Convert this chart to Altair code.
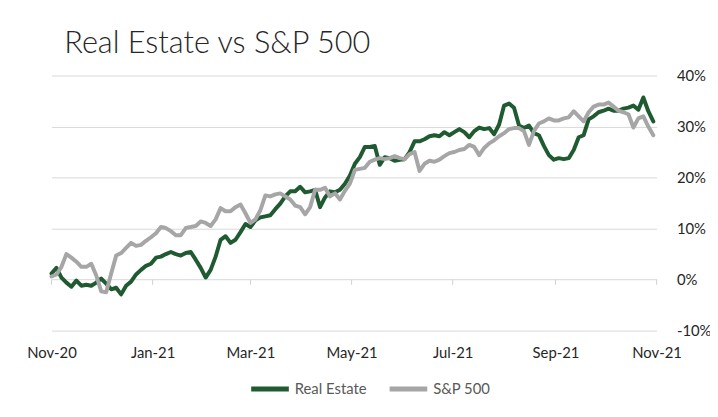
import altair as alt
import pandas as pd

dates = [
    "2020/11/01", "2020/11/04", "2020/11/07", "2020/11/10", "2020/11/13", "2020/11/16", "2020/11/19", "2020/11/22", "2020/11/25", "2020/11/28",
    "2020/12/01", "2020/12/04", "2020/12/07", "2020/12/10", "2020/12/13", "2020/12/16", "2020/12/19", "2020/12/22", "2020/12/25", "2020/12/28",
    "2020/12/31", "2021/01/03", "2021/01/06", "2021/01/09", "2021/01/12", "2021/01/15", "2021/01/18", "2021/01/21", "2021/01/24", "2021/01/27",
    "2021/01/30", "2021/02/02", "2021/02/05", "2021/02/08", "2021/02/11", "2021/02/14", "2021/02/17", "2021/02/20", "2021/02/23", "2021/02/26",
    "2021/03/01", "2021/03/04", "2021/03/07", "2021/03/10", "2021/03/13", "2021/03/16", "2021/03/19", "2021/03/22", "2021/03/25", "2021/03/28",
    "2021/03/31", "2021/04/03", "2021/04/06", "2021/04/09", "2021/04/12", "2021/04/15", "2021/04/18", "2021/04/21", "2021/04/24", "2021/04/27",
    "2021/04/30", "2021/05/03", "2021/05/06", "2021/05/09", "2021/05/12", "2021/05/15", "2021/05/18", "2021/05/21", "2021/05/24", "2021/05/27",
    "2021/05/30", "2021/06/02", "2021/06/05", "2021/06/08", "2021/06/11", "2021/06/14", "2021/06/17", "2021/06/20", "2021/06/23", "2021/06/26",
    "2021/06/29", "2021/07/02", "2021/07/05", "2021/07/08", "2021/07/11", "2021/07/14", "2021/07/17", "2021/07/20", "2021/07/23", "2021/07/26",
    "2021/07/29", "2021/08/01", "2021/08/04", "2021/08/07", "2021/08/10", "2021/08/13", "2021/08/16", "2021/08/19", "2021/08/22", "2021/08/25",
    "2021/08/28", "2021/08/31", "2021/09/03", "2021/09/06", "2021/09/09", "2021/09/12", "2021/09/15", "2021/09/18", "2021/09/21", "2021/09/24",
    "2021/09/27", "2021/09/30", "2021/10/03", "2021/10/06", "2021/10/09", "2021/10/12", "2021/10/15", "2021/10/18", "2021/10/21", "2021/10/24",
    "2021/10/27", "2021/10/30",
]

real_estate = [
    1.2, 2.3, 0.4, -0.6, -1.4, -0.2, -1.2, -1.0, -1.2, -0.6,
    0.2, -0.8, -1.9, -1.6, -2.9, -1.2, -0.4, 1.0, 1.9, 2.7,
    3.1, 4.3, 4.5, 5.0, 5.4, 5.0, 4.7, 5.2, 5.4, 3.9,
    2.3, 0.4, 1.9, 4.5, 7.8, 8.5, 7.2, 7.8, 9.3, 10.9,
    10.3, 11.6, 12.2, 12.4, 12.6, 13.8, 14.9, 16.3, 17.3, 17.3,
    18.2, 17.1, 17.3, 17.6, 14.2, 16.1, 17.3, 17.1, 17.6, 18.8,
    20.4, 22.7, 24.0, 26.0, 26.0, 26.2, 22.5, 24.0, 23.8, 23.3,
    23.5, 23.6, 25.0, 27.1, 27.1, 27.5, 28.1, 28.3, 28.1, 28.9,
    28.3, 28.9, 29.5, 28.9, 27.9, 29.1, 29.8, 29.5, 29.7, 28.5,
    30.4, 34.1, 34.5, 33.7, 30.2, 29.7, 30.2, 28.7, 28.3, 26.2,
    24.4, 23.5, 23.8, 23.6, 23.8, 25.4, 27.9, 28.3, 31.4, 32.0,
    32.8, 33.1, 33.5, 33.1, 33.1, 33.5, 33.7, 34.1, 33.3, 35.7,
    33.0, 31.0,
]

sp500 = [
    0.6, 1.0, 2.5, 5.0, 4.3, 3.5, 2.5, 2.5, 3.1, 0.8,
    -2.3, -2.5, 1.2, 4.7, 5.2, 6.2, 7.2, 6.6, 6.8, 7.6,
    8.3, 9.1, 10.3, 10.1, 9.5, 8.7, 8.7, 10.1, 10.3, 10.5,
    11.4, 11.1, 10.5, 11.8, 14.0, 13.4, 13.4, 14.2, 14.7, 13.0,
    11.1, 11.8, 13.6, 16.5, 16.3, 16.7, 16.9, 16.3, 15.7, 14.5,
    14.2, 12.8, 14.2, 17.6, 17.6, 18.0, 16.3, 16.9, 15.7, 17.4,
    18.8, 21.5, 21.7, 21.9, 23.1, 23.5, 23.8, 23.6, 23.8, 24.2,
    23.8, 23.6, 24.6, 25.0, 21.3, 22.7, 23.3, 23.1, 23.5, 24.2,
    24.8, 25.0, 25.4, 25.6, 26.4, 26.0, 24.4, 25.8, 26.7, 27.3,
    28.1, 28.7, 29.5, 29.7, 29.7, 29.1, 26.4, 29.1, 30.6, 31.0,
    31.6, 31.2, 31.2, 31.6, 31.8, 33.0, 32.0, 31.0, 32.8, 33.9,
    34.3, 34.3, 34.7, 33.9, 33.1, 32.8, 32.4, 29.8, 31.6, 32.0,
    30.0, 28.3,
]

series_names = ["Real Estate", "S&P 500"]
series_colors = ["#1F5A31", "#A6A6A6"]
y_ticks = [-10, -5, 0, 5, 10, 15, 20, 25, 30, 35, 40]
tick_months = [(2020, 11), (2021, 1), (2021, 3), (2021, 5), (2021, 7), (2021, 9), (2021, 11)]
tick_dates = ["2020/11/01", "2021/01/01", "2021/03/01", "2021/05/01", "2021/07/01", "2021/09/01", "2021/11/01"]

n = len(dates)
df = pd.DataFrame({
    "date": dates + dates,
    "value": real_estate + sp500,
    "series": [series_names[0]] * n + [series_names[1]] * n,
})
ticks_df = pd.DataFrame({"date": tick_dates})

tick_dt = [alt.DateTime(year=y, month=m, date=1) for y, m in tick_months]

x_enc = alt.X(
    "date:T",
    scale=alt.Scale(domain=[tick_dt[0], tick_dt[-1]]),
    axis=alt.Axis(values=tick_dt, format="%b-%y", domain=False, ticks=False, grid=False,
                  labelFlush=False, labelOverlap=False, labelPadding=15,
                  labelFont="Lato", labelFontSize=15, labelColor="#262626"),
    title=None,
)
y_enc = alt.Y(
    "value:Q",
    scale=alt.Scale(domain=[-10, 40]),
    axis=alt.Axis(orient="right", values=y_ticks, labelExpr="datum.value + '%'", grid=True,
                  gridColor="#D9D9D9", gridWidth=1, domain=False, ticks=False, labelPadding=20,
                  labelFont="Lato", labelFontSize=15, labelColor="#262626"),
    title=None,
)
color_enc = alt.Color(
    "series:N",
    scale=alt.Scale(domain=series_names, range=series_colors),
    legend=alt.Legend(orient="none", legendX=199, legendY=295, direction="horizontal", title=None,
                      symbolType="stroke", symbolSize=1450, symbolStrokeWidth=5,
                      labelFont="Lato", labelFontSize=15, labelColor="#595959",
                      columnPadding=12, labelOffset=3, padding=0),
)

base = alt.Chart(df)
green = base.transform_filter(alt.datum.series == series_names[0]).mark_line(
    strokeWidth=4, strokeJoin="round", strokeCap="round"
).encode(x=x_enc, y=y_enc, color=color_enc)
gray = base.transform_filter(alt.datum.series == series_names[1]).mark_line(
    strokeWidth=4, strokeJoin="round", strokeCap="round"
).encode(x=x_enc, y=y_enc, color=color_enc)

tick_marks = alt.Chart(ticks_df).mark_rule(color="#D0D0D0", strokeWidth=1).encode(
    x="date:T", y=alt.datum(0), y2=alt.datum(-1)
)

chart = alt.layer(tick_marks, green, gray).properties(
    width=612,
    height=258,
    autosize="none",
    padding={"left": 44, "top": 66, "right": 54, "bottom": 77},
    title=alt.TitleParams("Real Estate vs S&P 500", anchor="start", font="Lato", fontSize=31,
                          fontWeight=300, color="#262626", dx=38, dy=34, offset=19,
                          baseline="alphabetic"),
).configure_view(stroke=None)

chart.save("out.html", embed_options={"renderer": "svg", "actions": False})
